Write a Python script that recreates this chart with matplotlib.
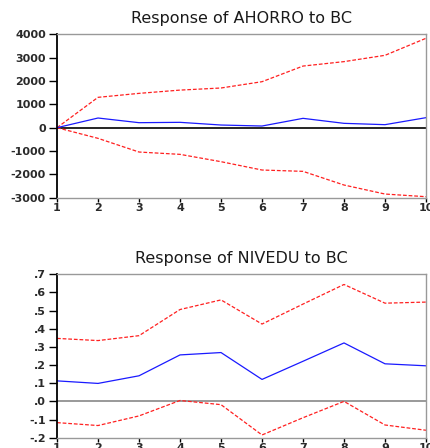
import matplotlib
matplotlib.use("Agg")
import matplotlib.pyplot as plt

periods = [1, 2, 3, 4, 5, 6, 7, 8, 9, 10]

ahorro_mean = [0, 414, 214, 229, 114, 71, 400, 186, 129, 429]
ahorro_upper = [0, 1300, 1470, 1610, 1700, 1970, 2640, 2830, 3100, 3830]
ahorro_lower = [0, -457, -1043, -1143, -1457, -1814, -1871, -2457, -2843, -2957]
ahorro_yticks = [-3000, -2000, -1000, 0, 1000, 2000, 3000, 4000]

nivedu_mean = [0.113, 0.099, 0.141, 0.256, 0.269, 0.121, 0.221, 0.322, 0.207, 0.196]
nivedu_upper = [0.347, 0.335, 0.362, 0.506, 0.559, 0.426, 0.536, 0.644, 0.541, 0.547]
nivedu_lower = [-0.117, -0.133, -0.080, 0.005, -0.018, -0.185, -0.090, 0.0, -0.130, -0.159]
nivedu_yticks = [-0.2, -0.1, 0.0, 0.1, 0.2, 0.3, 0.4, 0.5, 0.6, 0.7]
nivedu_yticklabels = ["-.2", "-.1", ".0", ".1", ".2", ".3", ".4", ".5", ".6", ".7"]

plt.rcParams['font.family'] = ['DejaVu Sans']

fig = plt.figure(figsize=(4.30, 4.48), dpi=100)

def style(ax, title, zero_color, yticks, yticklabels):
    ax.set_xlim(1, 10)
    ax.set_xticks(periods)
    ax.set_xticklabels([str(p) for p in periods], fontsize=8, fontweight='bold', color='#2a2a2a')
    ax.set_yticks(yticks)
    ax.set_yticklabels(yticklabels, fontsize=8, fontweight='bold', color='#2a2a2a')
    ax.axhline(0, color=zero_color, lw=1.2, zorder=1)
    for s in ['top', 'right', 'bottom']:
        ax.spines[s].set_color('#999999')
        ax.spines[s].set_linewidth(1.0)
    ax.spines['left'].set_color('black')
    ax.spines['left'].set_linewidth(1.3)
    ax.tick_params(axis='y', direction='out', length=5.5, width=1, pad=2.5, color='black')
    ax.tick_params(axis='x', direction='out', length=3, width=1, pad=0.5, color='black')
    ax.set_title(title, fontsize=11.5, pad=8, color='#1a1a1a')

dash = (0, (3, 1.5))

ax1 = fig.add_axes([0.1326, 0.5587, 0.8581, 0.3647])
ax1.plot(periods, ahorro_upper, color='#ff2020', ls=dash, lw=0.9)
ax1.plot(periods, ahorro_lower, color='#ff2020', ls=dash, lw=0.9)
ax1.plot(periods, ahorro_mean, color='#1a1aff', lw=0.9)
ax1.set_ylim(-3000, 4000)
style(ax1, "Response of AHORRO to BC", 'black', ahorro_yticks, [str(v) for v in ahorro_yticks])

ax2 = fig.add_axes([0.1326, 0.0230, 0.8581, 0.3647])
ax2.plot(periods, nivedu_upper, color='#ff2020', ls=dash, lw=0.9)
ax2.plot(periods, nivedu_lower, color='#ff2020', ls=dash, lw=0.9)
ax2.plot(periods, nivedu_mean, color='#1a1aff', lw=0.9)
ax2.set_ylim(-0.2, 0.7)
style(ax2, "Response of NIVEDU to BC", '#888888', nivedu_yticks, nivedu_yticklabels)

fig.savefig("out.png", dpi=100)
